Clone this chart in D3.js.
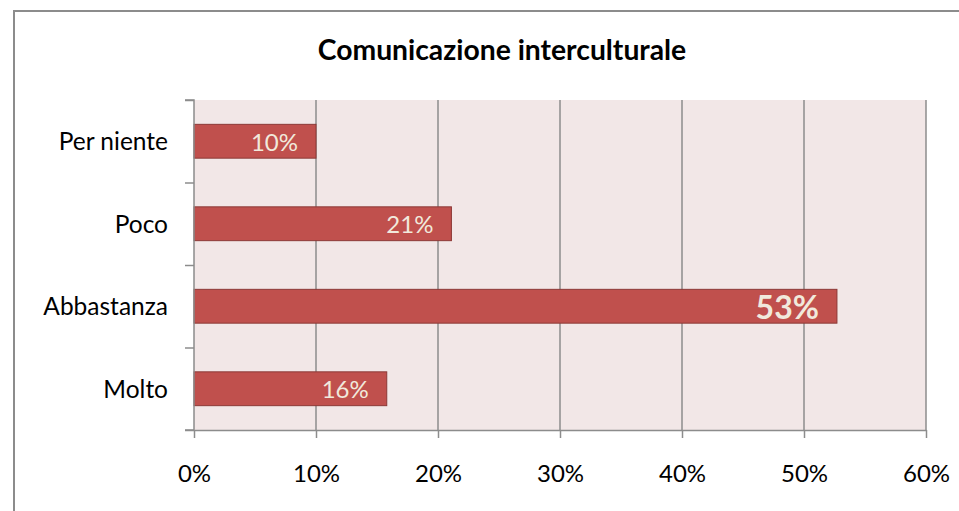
<!DOCTYPE html>
<html><head><meta charset="utf-8">
<script src="https://cdn.jsdelivr.net/npm/d3@7"></script>
<style>body{margin:0;background:#fff}svg{display:block}</style>
</head><body>
<script>
const title = "Comunicazione interculturale";
const categories = ["Per niente", "Poco", "Abbastanza", "Molto"];
const values = [0.10, 0.211, 0.527, 0.158];
const valueLabels = ["10%", "21%", "53%", "16%"];
const xTicks = [0, 0.1, 0.2, 0.3, 0.4, 0.5, 0.6];

const W = 959, H = 511;
const font = "Lato, 'Noto Sans', sans-serif";
const svg = d3.select("body").append("svg").attr("width", W).attr("height", H);

svg.append("rect").attr("x", 14).attr("y", 11).attr("width", 1000).attr("height", 600)
  .attr("fill", "#fff").attr("stroke", "#8c8c8c").attr("stroke-width", 2);

const m = {left: 194, right: 926, top: 100, bottom: 430};
const x = d3.scaleLinear().domain([0, 0.6]).range([m.left, m.right]);
const y = d3.scaleBand().domain(categories).range([m.top, m.bottom]).paddingInner(0.59).paddingOuter(0.295);

svg.append("rect").attr("x", m.left).attr("y", m.top).attr("width", m.right - m.left).attr("height", m.bottom - m.top)
  .attr("fill", "#f2e7e7");

svg.append("g").selectAll("line").data(xTicks.slice(1)).join("line")
  .attr("x1", d => x(d)).attr("x2", d => x(d)).attr("y1", m.top).attr("y2", m.bottom)
  .attr("stroke", "#8c8c8c").attr("stroke-width", 1.5);

svg.append("g").selectAll("rect").data(categories).join("rect")
  .attr("x", x(0)).attr("y", d => y(d)).attr("height", y.bandwidth())
  .attr("width", (d, i) => x(values[i]) - x(0))
  .attr("fill", "#c0504d").attr("stroke", "#8c3836").attr("stroke-width", 1);

svg.append("g").selectAll("text").data(categories).join("text")
  .attr("x", (d, i) => x(values[i]) - 18)
  .attr("y", d => y(d) + y.bandwidth() / 2)
  .attr("dy", (d, i) => i === 2 ? "0.41em" : "0.4em")
  .attr("text-anchor", "end")
  .attr("font-family", font)
  .attr("font-size", (d, i) => i === 2 ? 32 : 24)
  .attr("font-weight", (d, i) => i === 2 ? "bold" : "normal")
  .attr("fill", "#f1e9dc")
  .text((d, i) => valueLabels[i]);

// Axes
const yAxis = d3.axisLeft(d3.scaleLinear().domain([0, 4]).range([m.top, m.bottom])).ticks(4).tickSize(9).tickFormat("");
const gy = svg.append("g").attr("transform", `translate(${m.left},0)`).call(yAxis);
gy.selectAll("path,line").attr("stroke", "#8c8c8c").attr("stroke-width", 1.5);
gy.select(".domain").attr("d", `M-9,${m.top}H0V${m.bottom}H-9`);

const xAxis = d3.axisBottom(x).tickValues(xTicks).tickSize(8).tickSizeOuter(0).tickFormat(d3.format(".0%"));
const gx = svg.append("g").attr("transform", `translate(0,${m.bottom})`).call(xAxis);
gx.selectAll("path,line").attr("stroke", "#8c8c8c").attr("stroke-width", 1.5);
gx.selectAll("text").attr("font-family", font).attr("font-size", 24).attr("fill", "#000").attr("dy", 0).attr("y", 52);

svg.append("g").selectAll("text").data(categories).join("text")
  .attr("x", 168).attr("y", d => y(d) + y.bandwidth() / 2).attr("dy", "0.36em")
  .attr("text-anchor", "end").attr("font-family", font).attr("font-size", 24.5).attr("fill", "#000")
  .text(d => d);

svg.append("text").attr("x", 502).attr("y", 60).attr("text-anchor", "middle")
  .attr("font-family", font).attr("font-size", 28.3).attr("font-weight", "bold").attr("fill", "#000")
  .text(title);
</script>
</body></html>
